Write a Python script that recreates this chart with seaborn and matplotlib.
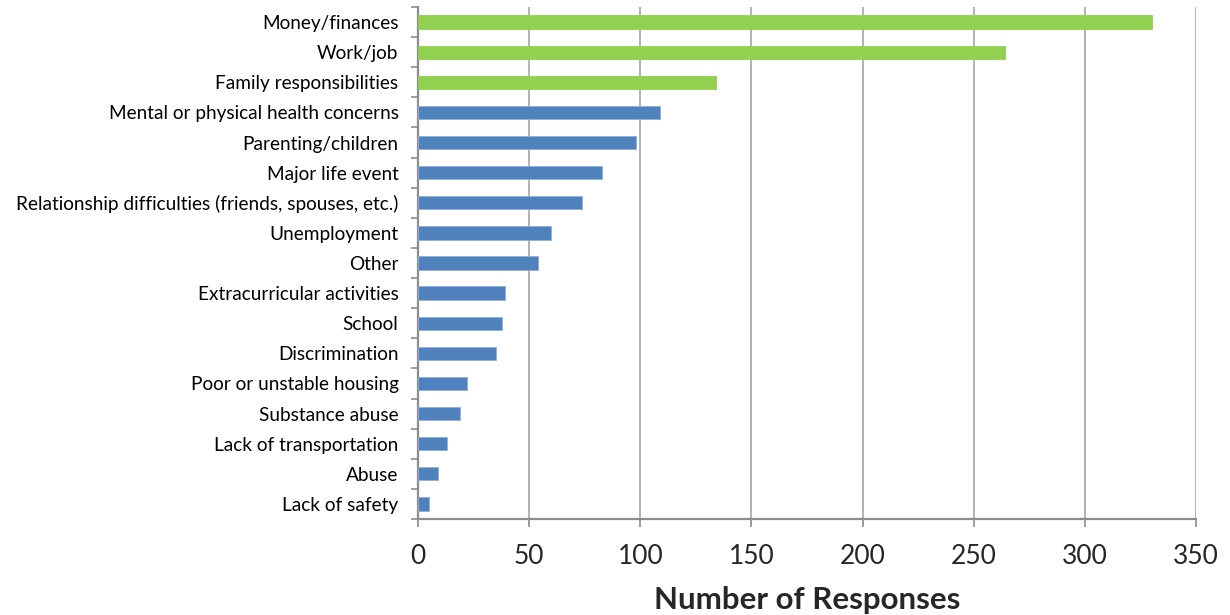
import matplotlib
matplotlib.use("Agg")
import matplotlib.pyplot as plt
import seaborn as sns
import pandas as pd
import numpy as np

categories = [
    "Money/finances", "Work/job", "Family responsibilities",
    "Mental or physical health concerns", "Parenting/children",
    "Major life event", "Relationship difficulties (friends, spouses, etc.)",
    "Unemployment", "Other", "Extracurricular activities", "School",
    "Discrimination", "Poor or unstable housing", "Substance abuse",
    "Lack of transportation", "Abuse", "Lack of safety",
]
responses = [330, 264, 134, 109, 98, 83, 74, 60, 54, 39, 38, 35, 22, 19, 13, 9, 5]
group = ["top"] * 3 + ["rest"] * 14
x_ticks = [0, 50, 100, 150, 200, 250, 300, 350]

df = pd.DataFrame({"category": categories, "responses": responses, "group": group})

sns.set_theme(style="white")
plt.rcParams["font.family"] = ["Lato", "DejaVu Sans"]

fig = plt.figure(figsize=(12.3, 6.15), dpi=100)
ax = fig.add_axes([418 / 1230, 1 - 519 / 615, (1196 - 418) / 1230, (519 - 7) / 615])

palette = {"top": "#92D050", "rest": "#4F81BD"}
sns.barplot(data=df, y="category", x="responses", hue="group", palette=palette,
            dodge=False, legend=False, width=0.44, ax=ax, saturation=1,
            edgecolor="#8FB0DA", linewidth=0.6, zorder=3)
for p in ax.patches[:3]:
    p.set_edgecolor("#92D050")

ax.set_xlim(0, 350)
ax.set_ylim(len(categories) - 0.5, -0.5)
ax.set_xticks(x_ticks)
ax.set_xticklabels([str(t) for t in x_ticks], fontsize=19)
ax.xaxis.grid(True, color="#A6A6A6", linewidth=1.2, zorder=0)
ax.yaxis.grid(False)

ax.set_ylabel("")
ax.set_xlabel("Number of Responses", fontsize=22.5, fontweight="bold", labelpad=12)
ax.tick_params(axis="y", length=0, labelsize=13.7, pad=14, colors="black")
ax.set_yticks(np.arange(-0.5, len(categories), 1), minor=True)
ax.tick_params(axis="y", which="minor", length=5, width=1.2, color="#8C8C8C", left=True)
ax.tick_params(axis="x", length=6, width=1.2, color="#8C8C8C", bottom=True, pad=12)

for s in ["top", "right"]:
    ax.spines[s].set_visible(False)
ax.spines["left"].set_color("#8C8C8C")
ax.spines["left"].set_linewidth(1.6)
ax.spines["bottom"].set_color("#8C8C8C")
ax.spines["bottom"].set_linewidth(1.6)

fig.savefig("out.png", dpi=100, facecolor="white")
